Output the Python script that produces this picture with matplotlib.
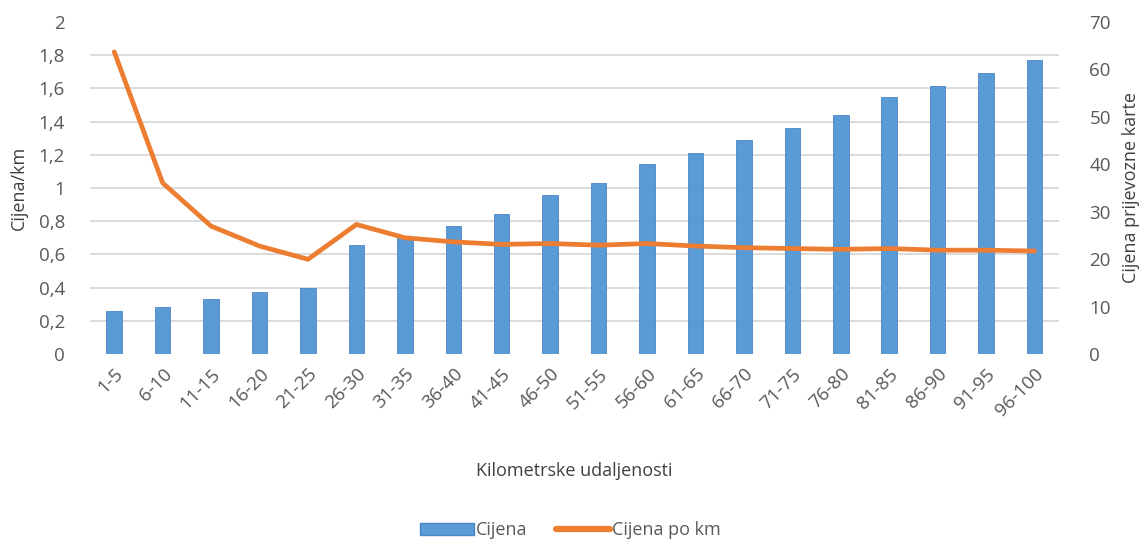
import numpy as np
import matplotlib
matplotlib.use('Agg')
import matplotlib.pyplot as plt
from matplotlib.patches import Patch
from matplotlib.lines import Line2D

# distance ranges (km)
categories = ['1-5', '6-10', '11-15', '16-20', '21-25', '26-30', '31-35', '36-40',
              '41-45', '46-50', '51-55', '56-60', '61-65', '66-70', '71-75', '76-80',
              '81-85', '86-90', '91-95', '96-100']

# ticket price (right axis)
cijena = [9, 10, 11.5, 13, 14, 23, 24.5, 27, 29.5, 33.5, 36, 40, 42.4, 45.2,
          47.6, 50.3, 54.1, 56.5, 59.3, 62]

# price per km (left axis)
cijena_po_km = [1.82, 1.03, 0.77, 0.65, 0.57, 0.78, 0.70, 0.675, 0.66, 0.665,
                0.655, 0.665, 0.65, 0.64, 0.635, 0.63, 0.635, 0.625, 0.625, 0.62]

left_ticks = ['0', '0,2', '0,4', '0,6', '0,8', '1', '1,2', '1,4', '1,6', '1,8', '2']

plt.rcParams['font.family'] = ['Open Sans', 'DejaVu Sans']
text_col = '#595959'
blue = '#5B9BD5'
orange = '#ED7D31'
fs = 13.5

fig = plt.figure(figsize=(11.41, 5.42), dpi=100)
ax_bar = fig.add_axes([0.0789, 0.347, 0.849, 0.6125])
ax_line = ax_bar.twinx()

x = np.arange(len(categories))

# bars on the right-hand scale
ax_bar.bar(x, cijena, width=0.32, color=blue, edgecolor='#4A86C5', linewidth=0.6, zorder=3)
ax_bar.set_ylim(0, 70)
ax_bar.set_yticks(np.arange(0, 71, 10))
ax_bar.yaxis.tick_right()
ax_bar.yaxis.set_label_position('right')
ax_bar.set_ylabel('Cijena prijevozne karte', fontsize=13, color='#404040', labelpad=8)
# gridlines at the left-axis steps, kept behind the bars
ax_bar.set_yticks(np.arange(0, 71, 7), minor=True)
ax_bar.grid(which='minor', axis='y', color='#D9D9D9', linewidth=1.3, zorder=0)
ax_bar.grid(which='major', visible=False)
ax_bar.set_axisbelow(True)

ax_bar.set_xlim(-0.5, len(categories) - 0.5)
ax_bar.set_xticks(x)
ax_bar.set_xticklabels(categories, rotation=45, ha='right', rotation_mode='anchor',
                       fontsize=fs, color=text_col)
ax_bar.set_xlabel('Kilometrske udaljenosti', fontsize=13, color='#404040', labelpad=30)

# line on the left-hand scale
ax_line.plot(x, cijena_po_km, color=orange, linewidth=3.4, solid_capstyle='round',
             solid_joinstyle='round', zorder=4)
ax_line.set_ylim(0, 2)
ax_line.set_yticks(np.linspace(0, 2, 11))
ax_line.set_yticklabels(left_ticks)
ax_line.yaxis.tick_left()
ax_line.yaxis.set_label_position('left')
ax_line.set_ylabel('Cijena/km', fontsize=13, color='#404040', labelpad=8)

for a in (ax_bar, ax_line):
    for s in a.spines.values():
        s.set_visible(False)
    a.tick_params(which='both', length=0, labelsize=fs, labelcolor=text_col)
ax_bar.tick_params(axis='y', pad=22)
ax_line.tick_params(axis='y', pad=18)
ax_bar.tick_params(axis='x', pad=8)

handles = [Patch(facecolor=blue, edgecolor='#4A86C5'),
           Line2D([0], [0], color=orange, linewidth=4.5, solid_capstyle='round')]
fig.legend(handles, ['Cijena', 'Cijena po km'], loc='lower center',
           bbox_to_anchor=(0.5, -0.025), ncol=2, frameon=False, fontsize=13,
           handlelength=3.0, handletextpad=0.1, columnspacing=1.6,
           labelcolor=text_col)

fig.savefig('out.png', dpi=100)
